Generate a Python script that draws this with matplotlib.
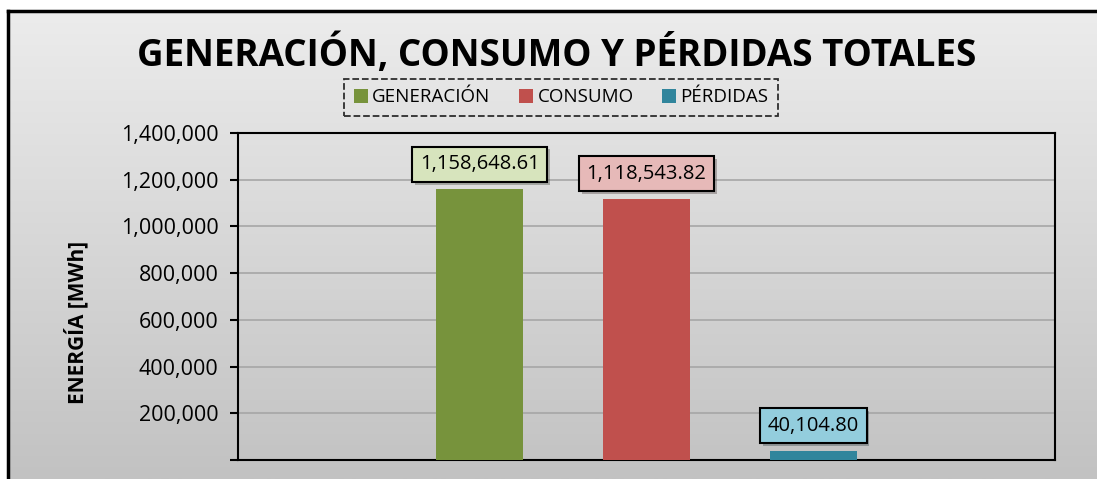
import matplotlib
matplotlib.use("Agg")
import matplotlib.pyplot as plt
import numpy as np
from matplotlib.patches import Patch
from matplotlib.colors import LinearSegmentedColormap
from matplotlib.ticker import FuncFormatter, MultipleLocator
import matplotlib.patheffects as pe

plt.rcParams['font.family'] = ['Open Sans', 'DejaVu Sans']

# data
series = ["GENERACIÓN", "CONSUMO", "PÉRDIDAS"]
values = [1158648.61, 1118543.82, 40104.80]
bar_colors = ["#77933c", "#c0504d", "#31859c"]
label_fills = ["#d7e4bd", "#e6b9b8", "#93cddd"]
title = "GENERACIÓN, CONSUMO Y PÉRDIDAS TOTALES"
ylabel = "ENERGÍA [MWh]"

W, H = 1097, 479
fig = plt.figure(figsize=(W / 100, H / 100), dpi=100)
fig.patch.set_facecolor("white")

# gradient background of the chart area + black frame
bg = fig.add_axes([0, 0, 1, 1], zorder=-10)
bg.set_xlim(0, W)
bg.set_ylim(H, 0)
bg.axis("off")
grad = np.linspace(0, 1, 256).reshape(-1, 1)
cmap_bg = LinearSegmentedColormap.from_list("bg", ["#ececec", "#c2c2c2"])
bg.imshow(grad, extent=(8, W, H, 11), aspect="auto", cmap=cmap_bg)
bg.plot([8, 8], [H, 11], color="black", lw=2.5, solid_capstyle="projecting")
bg.plot([8, W], [11, 11], color="black", lw=2.5, solid_capstyle="projecting")

# plot area
ax = fig.add_axes([238 / W, 19 / H, 817 / W, 327 / H])
ax.set_facecolor("none")
x = np.arange(len(series))
ax.bar(x, values, width=0.52, color=bar_colors, zorder=3)
ax.set_xlim(-1.45, 3.45)
ax.set_ylim(0, 1400000)
ax.yaxis.set_major_locator(MultipleLocator(200000))
ax.yaxis.set_major_formatter(FuncFormatter(lambda v, p: "" if v == 0 else f"{v:,.0f}"))
ax.grid(axis="y", color="#a6a6a6", lw=1.2, zorder=0)
ax.set_xticks([])
ax.tick_params(axis="y", direction="out", length=6, width=1.5, labelsize=15.5, pad=8)
for s in ax.spines.values():
    s.set_linewidth(1.5)
    s.set_color("black")

for xi, v, fc in zip(x, values, label_fills):
    t = ax.annotate(f"{v:,.2f}", (xi, v), xytext=(0, 18), textcoords="offset points",
                    ha="center", va="center", fontsize=14.5, zorder=5,
                    bbox=dict(boxstyle="square,pad=0.38", fc=fc, ec="black", lw=1.5))
    t.get_bbox_patch().set_path_effects([pe.SimplePatchShadow(offset=(2, -2), alpha=0.35), pe.Normal()])

fig.text(557 / W, 1 - 55 / H, title, ha="center", va="center",
         fontsize=26.5, fontweight="bold", color="black")
fig.text(76 / W, 1 - 322 / H, ylabel, ha="center", va="center",
         rotation=90, fontsize=15, fontweight="bold")

handles = [Patch(facecolor=c, edgecolor="none") for c in bar_colors]
leg = fig.legend(handles, series, loc="center", bbox_to_anchor=(561 / W, 1 - 97.5 / H),
                 ncol=3, fontsize=13.5, frameon=True, fancybox=False,
                 handlelength=0.75, handleheight=0.75, handletextpad=0.25,
                 columnspacing=1.5, borderpad=0.5, borderaxespad=0)
frame = leg.get_frame()
frame.set_facecolor("none")
frame.set_edgecolor("black")
frame.set_linestyle("--")
frame.set_linewidth(1.3)

fig.savefig("out.png", dpi=100)
